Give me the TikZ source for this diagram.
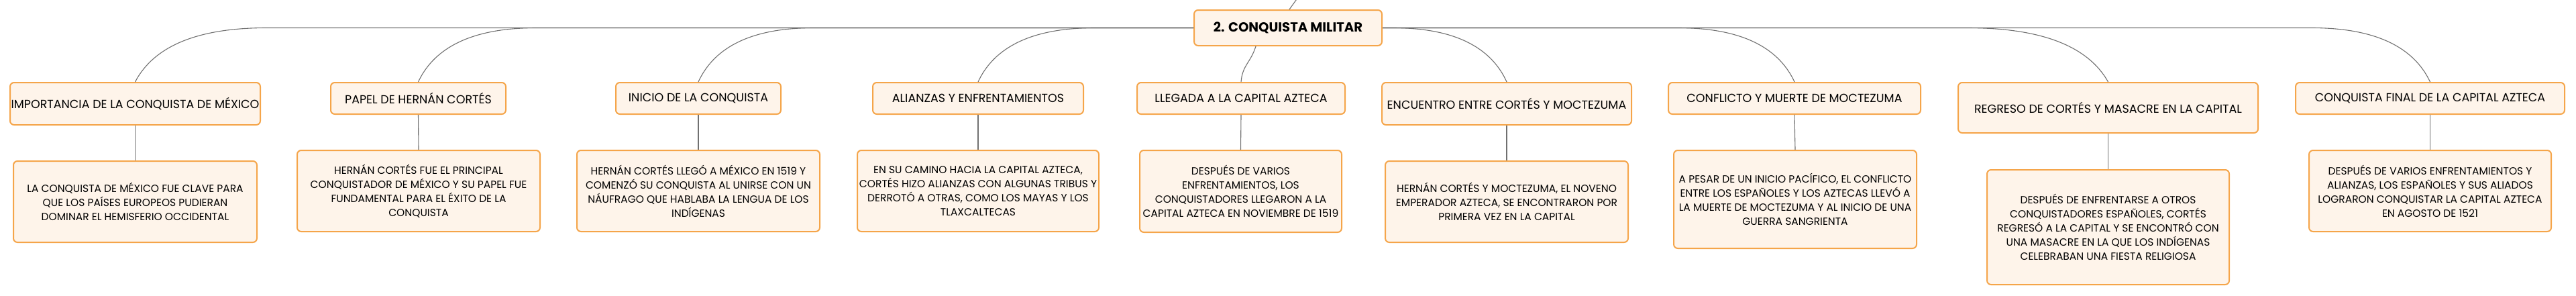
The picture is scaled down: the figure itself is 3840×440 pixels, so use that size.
\documentclass[tikz,border=0pt]{standalone}
\usepackage{fontspec}
\setmainfont{Poppins}
\usetikzlibrary{calc}
\definecolor{boxline}{HTML}{F5A54A}
\definecolor{boxfill}{HTML}{FEF4EA}
\definecolor{linkgray}{HTML}{707070}
\tikzset{
	topic/.style={draw=boxline, fill=boxfill, line width=2pt, rounded corners=6pt, align=center, inner sep=0pt, font=\fontsize{17.5}{21}\selectfont},
	detail/.style={topic, font=\fontsize{15.5}{21}\selectfont},
	maintopic/.style={topic, font=\fontsize{19.6}{24}\selectfont\bfseries},
	link/.style={draw=linkgray, line width=1.1pt},
}
\def\branch(#1)(#2)(#3){\draw[link] (#1) -- ($(#2.north |- #1)+(#3,0)$) .. controls +({-0.6*#3},0) and +({0.12*#3},-45) .. (#2.north);}

\begin{document}
\begin{tikzpicture}[x=1pt,y=-1pt]
			%%%%% START %%%%%
			\useasboundingbox (0,0) rectangle (3840,440);
			
			\node[maintopic, minimum width=280pt, minimum height=53pt] (root) at (1920,41.5) {2. CONQUISTA MILITAR};
			\coordinate (up) at (1935,-4);
			\draw[link] ($(root.north)+(2,0)$) -- (up);
			
			\node[topic, minimum width=373pt, minimum height=63pt] (t1) at (201.5,154.5) {IMPORTANCIA DE LA CONQUISTA DE MÉXICO};
			\node[topic, minimum width=261pt, minimum height=47pt] (t2) at (623.5,146.5) {PAPEL DE HERNÁN CORTÉS};
			\node[topic, minimum width=246pt, minimum height=47pt] (t3) at (1041,146.5) {INICIO DE LA CONQUISTA};
			\node[topic, minimum width=314pt, minimum height=47pt] (t4) at (1458,146.5) {ALIANZAS Y ENFRENTAMIENTOS};
			\node[topic, minimum width=310pt, minimum height=47pt] (t5) at (1850,146.5) {LLEGADA A LA CAPITAL AZTECA};
			\node[topic, minimum width=372pt, minimum height=63pt] (t6) at (2246,154.5) {ENCUENTRO ENTRE CORTÉS Y MOCTEZUMA};
			\node[topic, minimum width=376pt, minimum height=47pt] (t7) at (2675,146.5) {CONFLICTO Y MUERTE DE MOCTEZUMA};
			\node[topic, minimum width=447pt, minimum height=75pt] (t8) at (3142.5,160.5) {REGRESO DE CORTÉS Y MASACRE EN LA CAPITAL};
			\node[topic, minimum width=401pt, minimum height=47pt] (t9) at (3622.5,146.5) {CONQUISTA FINAL DE LA CAPITAL AZTECA};
			
			\node[detail, minimum width=363pt, minimum height=121pt] (d1) at (201.5,300.5) {LA CONQUISTA DE MÉXICO FUE CLAVE PARA\\QUE LOS PAÍSES EUROPEOS PUDIERAN\\DOMINAR EL HEMISFERIO OCCIDENTAL};
			\node[detail, minimum width=362pt, minimum height=121pt] (d2) at (624,284.5) {HERNÁN CORTÉS FUE EL PRINCIPAL\\CONQUISTADOR DE MÉXICO Y SU PAPEL FUE\\FUNDAMENTAL PARA EL ÉXITO DE LA\\CONQUISTA};
			\node[detail, minimum width=362pt, minimum height=121pt] (d3) at (1041,284.5) {HERNÁN CORTÉS LLEGÓ A MÉXICO EN 1519 Y\\COMENZÓ SU CONQUISTA AL UNIRSE CON UN\\NÁUFRAGO QUE HABLABA LA LENGUA DE LOS\\INDÍGENAS};
			\node[detail, minimum width=360pt, minimum height=121pt] (d4) at (1458,284.5) {EN SU CAMINO HACIA LA CAPITAL AZTECA,\\CORTÉS HIZO ALIANZAS CON ALGUNAS TRIBUS Y\\DERROTÓ A OTRAS, COMO LOS MAYAS Y LOS\\TLAXCALTECAS};
			\node[detail, minimum width=301pt, minimum height=122pt] (d5) at (1849.5,285) {DESPUÉS DE VARIOS\\ENFRENTAMIENTOS, LOS\\CONQUISTADORES LLEGARON A LA\\CAPITAL AZTECA EN NOVIEMBRE DE 1519};
			\node[detail, minimum width=362pt, minimum height=121pt] (d6) at (2246,300.5) {HERNÁN CORTÉS Y MOCTEZUMA, EL NOVENO\\EMPERADOR AZTECA, SE ENCONTRARON POR\\PRIMERA VEZ EN LA CAPITAL};
			\node[detail, minimum width=362pt, minimum height=146pt] (d7) at (2676,297) {A PESAR DE UN INICIO PACÍFICO, EL CONFLICTO\\ENTRE LOS ESPAÑOLES Y LOS AZTECAS LLEVÓ A\\LA MUERTE DE MOCTEZUMA Y AL INICIO DE UNA\\GUERRA SANGRIENTA};
			\node[detail, minimum width=361pt, minimum height=171pt] (d8) at (3142.5,338.5) {DESPUÉS DE ENFRENTARSE A OTROS\\CONQUISTADORES ESPAÑOLES, CORTÉS\\REGRESÓ A LA CAPITAL Y SE ENCONTRÓ CON\\UNA MASACRE EN LA QUE LOS INDÍGENAS\\CELEBRABAN UNA FIESTA RELIGIOSA};
			\node[detail, minimum width=361pt, minimum height=121pt] (d9) at (3622.5,284.5) {DESPUÉS DE VARIOS ENFRENTAMIENTOS Y\\ALIANZAS, LOS ESPAÑOLES Y SUS ALIADOS\\LOGRARON CONQUISTAR LA CAPITAL AZTECA\\EN AGOSTO DE 1521};
			
			% root to topics
			\branch(root.west)(t1)(196)
			\branch(root.west)(t2)(176)
			\branch(root.west)(t3)(172)
			\branch(root.west)(t4)(174)
			\draw[link] ($(root.south)+(-48,0)$) .. controls +(-8,25) and +(2,-25) .. (t5.north);
			\branch(root.east)(t6)(-170)
			\branch(root.east)(t7)(-174)
			\branch(root.east)(t8)(-210)
			\branch(root.east)(t9)(-177)
			
			% topics to details
			\draw[link] (t1.south) -- (d1.north);
			\draw[link] (t2.south) -- (d2.north);
			\draw[link] (t3.south) -- (d3.north);
			\draw[link] (t4.south) -- (d4.north);
			\draw[link] (t5.south) -- (d5.north);
			\draw[link] (t6.south) -- (d6.north);
			\draw[link] (t7.south) -- (d7.north);
			\draw[link] (t8.south) -- (d8.north);
			\draw[link] (t9.south) -- (d9.north);
			
			%%%%% END %%%%%
		\end{tikzpicture}
\end{document}
